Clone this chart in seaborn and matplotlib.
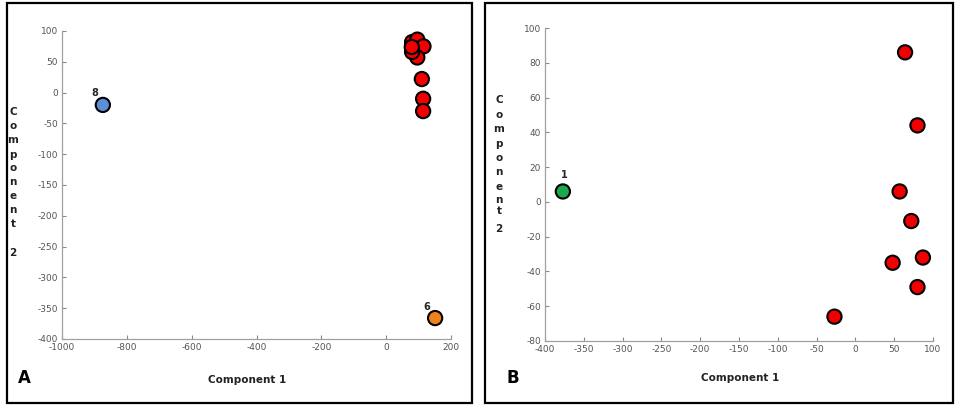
import matplotlib
matplotlib.use("Agg")
import matplotlib.pyplot as plt
import seaborn as sns
import pandas as pd
from matplotlib.patches import Rectangle

# ---- Data: panel A ----
a_x = [-874, 151, 110, 114, 114, 80, 96, 115, 96, 80, 79]
a_y = [-20, -366, 22, -10, -30, 82, 86, 75, 57, 66, 74]
a_group = ["blue", "orange", "red", "red", "red", "red", "red", "red", "red", "red", "red"]
a_labels = {0: "8", 1: "6"}

# ---- Data: panel B ----
b_x = [-377, 64, 80, 57, 72, 87, 48, 80, -27]
b_y = [6, 86, 44, 6, -11, -32, -35, -49, -66]
b_group = ["green", "red", "red", "red", "red", "red", "red", "red", "red"]
b_labels = {0: "1"}

a_xticks = list(range(-1000, 201, 200))
a_yticks = list(range(-400, 101, 50))
b_xticks = list(range(-400, 101, 50))
b_yticks = list(range(-80, 101, 20))

palette = {"red": "#F20000", "blue": "#5B8FD6", "orange": "#F0821E", "green": "#1CA84C"}

sns.set_theme(style="white")
plt.rcParams["font.family"] = ["DejaVu Sans"]
plt.rcParams["axes.unicode_minus"] = False

W, H = 957, 407
fig = plt.figure(figsize=(W / 100, H / 100), dpi=100)

def px_rect(x0, y0, x1, y1):
    return [x0 / W, 1 - y1 / H, (x1 - x0) / W, (y1 - y0) / H]

# frames
for (x0, y0, x1, y1) in [(7, 3, 472, 403), (485, 3, 953, 403)]:
    fig.patches.append(Rectangle((x0 / W, 1 - y1 / H), (x1 - x0) / W, (y1 - y0) / H,
                                 transform=fig.transFigure, fill=False,
                                 edgecolor="black", linewidth=1.6))

def panel(rect, xs, ys, groups, labels, offsets, xlim, ylim, xticks, yticks):
    ax = fig.add_axes(px_rect(*rect))
    df = pd.DataFrame({"x": xs, "y": ys, "g": groups})
    sns.scatterplot(data=df, x="x", y="y", hue="g", palette=palette, s=105,
                    edgecolor="black", linewidth=1.5, legend=False, ax=ax, zorder=3,
                    clip_on=False)
    for i, t in labels.items():
        ax.annotate(t, (xs[i], ys[i]), xytext=offsets[i], textcoords="offset pixels",
                    fontsize=7, fontweight="bold", ha="center", va="center")
    ax.set_xlim(*xlim)
    ax.set_ylim(*ylim)
    ax.set_xticks(xticks)
    ax.set_yticks(yticks)
    for s in ["top", "right"]:
        ax.spines[s].set_visible(False)
    for s in ["left", "bottom"]:
        ax.spines[s].set_color("#a0a0a0")
        ax.spines[s].set_linewidth(0.9)
    ax.tick_params(direction="in", length=3, width=0.8, color="#888888",
                   labelsize=6.5, labelcolor="#555555", pad=3)
    ax.tick_params(axis="both", which="both", bottom=True, left=True)
    ax.set_xlabel("")
    ax.set_ylabel("")
    ax.set_facecolor("white")
    return ax

panel((62, 31, 451, 339), a_x, a_y, a_group, a_labels, {0: (-8, 12), 1: (-8, 11)},
      (-1000, 200), (-400, 100), a_xticks, a_yticks)
panel((545, 28, 933, 341), b_x, b_y, b_group, b_labels, {0: (1, 16)},
      (-400, 100), (-80, 100), b_xticks, b_yticks)

# axis labels
for cx, cy in [(247, 380), (740, 378)]:
    fig.text(cx / W, 1 - cy / H, "Component 1", ha="center", va="center",
             fontsize=7.5, fontweight="bold", color="#222222")

letters = list("Component2")
ypos_a = [112, 126, 140, 155, 168, 182, 196, 210, 224, 253]
ypos_b = [100, 115, 129, 144, 158, 172, 187, 200, 211, 229]
for cx, ys in [(13, ypos_a), (499, ypos_b)]:
    for ch, cy in zip(letters, ys):
        fig.text(cx / W, 1 - cy / H, ch, ha="center", va="center", fontsize=7.5,
                 fontweight="bold", color="#222222")

for t, cx, cy in [("A", 24, 378), ("B", 513, 378)]:
    fig.text(cx / W, 1 - cy / H, t, ha="center", va="center", fontsize=12,
             fontweight="bold", color="black")

fig.savefig("out.png", dpi=100, facecolor="white")
